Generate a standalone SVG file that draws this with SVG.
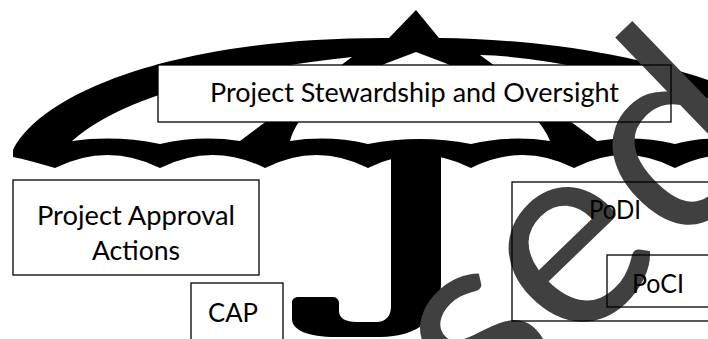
<svg xmlns="http://www.w3.org/2000/svg" width="708" height="339" viewBox="0 0 708 339">
<style>
.ink{fill:#000}
.hole{fill:#fff}
.bg{fill:#fff;stroke:none}
.box{fill:none;stroke:#000;stroke-width:1.3}
.lbl{font-family:Lato,"Open Sans","Liberation Sans",sans-serif;font-size:26.5px;fill:#000}
.wm{font-family:Lato,"Open Sans","Liberation Sans",sans-serif;font-size:267px;fill:#404040}
</style>
<rect width="708" height="339" fill="#fff"/>
<g id="umbrella">
<path class="ink" d="M13,150 C40,95 170,37 389,38 L416,10 L439,38 C540,39 650,55 740,92 L740,170 L778,168 Q726.5,142 675,168 Q624.5,142 574,168 Q522.5,142 471,168 Q419.5,142 368,168 Q316.5,142 265,168 Q212.5,142 160,168 Q107.5,142 55,168 Q28,160 13,157 Z"/>
<path class="hole" d="M72,141 Q140,80 352,57 L240,141 Q200,135 160,144 Q116,135 72,141 Z"/>
<path class="hole" d="M416,52 L387,63 Q300,100 290,141 Q329,135 368,144 Q419.5,134 471,144 Q510,135 550,141 Q534,100 445,63 Z"/>
<path class="hole" d="M480,55 Q570,57 740,108 L740,141 Q708,135 675,144 Q636,135 597,141 Z"/>
<path class="ink" d="M391,150 L441,150 L441,284 C441,318 418,337 380,337 L336,337 C308,337 292,330 292,319 L292,302 C292,299 295,297 299,297 L333,297 C337,297 339,300 339,304 L339,311 C339,318 345,322 357,322 L376,322 C386,322 391,316 391,306 Z"/>
</g>
<g id="backgrounds">
<rect class="bg" x="158" y="65" width="513" height="57"/>
<rect class="bg" x="13" y="180" width="246" height="95"/>
<rect class="bg" x="191" y="283" width="92" height="62"/>
<rect class="bg" x="512" y="182" width="200" height="139"/>
<rect class="bg" x="607" y="255" width="105" height="52"/>
</g>
<g id="watermark">
<text class="wm" transform="translate(-2,907) rotate(-44)" x="0 133 285 437 582 683 796 941 1093 1238" y="0">Superseded</text>
</g>
<g id="connectors"></g>
<g id="stewardship">
<rect class="box" x="158" y="65" width="513" height="57"/>
<text class="lbl" x="210" y="102" textLength="409" lengthAdjust="spacingAndGlyphs">Project Stewardship and Oversight</text>
</g>
<g id="approval">
<rect class="box" x="13" y="180" width="246" height="95"/>
<text class="lbl" x="37" y="225" textLength="198" lengthAdjust="spacingAndGlyphs">Project Approval</text>
<text class="lbl" x="92" y="260" textLength="88" lengthAdjust="spacingAndGlyphs">Actions</text>
</g>
<g id="cap">
<rect class="box" x="191" y="283" width="92" height="62"/>
<text class="lbl" x="208" y="322" textLength="50" lengthAdjust="spacingAndGlyphs">CAP</text>
</g>
<g id="podi">
<rect class="box" x="512" y="182" width="200" height="139"/>
<text class="lbl" x="589" y="219" textLength="52" lengthAdjust="spacingAndGlyphs">PoDI</text>
</g>
<g id="poci">
<rect class="box" x="607" y="255" width="105" height="52"/>
<text class="lbl" x="632" y="293" textLength="52" lengthAdjust="spacingAndGlyphs">PoCI</text>
</g>
</svg>
